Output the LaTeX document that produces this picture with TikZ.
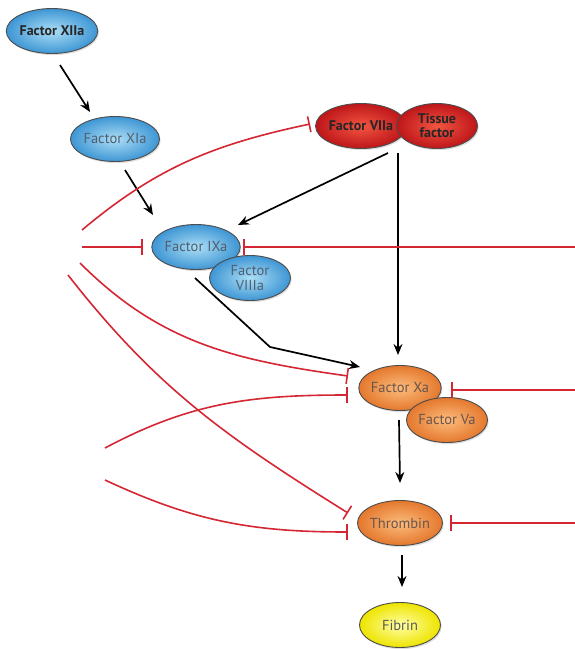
\documentclass[tikz,border=0pt]{standalone}
\usepackage{fontspec}
\setmainfont{PT Sans}
\usepackage{xcolor}
\usepackage{tikz}
\usetikzlibrary{arrows.meta, shapes.geometric, shadows}

\definecolor{inhibred}{RGB}{213, 38, 52}
\definecolor{blueinner}{RGB}{172, 222, 246}
\definecolor{blueouter}{RGB}{62, 150, 212}
\definecolor{redinner}{RGB}{242, 85, 65}
\definecolor{redouter}{RGB}{190, 22, 26}
\definecolor{orangeinner}{RGB}{252, 188, 125}
\definecolor{orangeouter}{RGB}{228, 120, 45}
\definecolor{yellowinner}{RGB}{255, 255, 165}
\definecolor{yellowouter}{RGB}{238, 228, 0}
\definecolor{bluetext}{RGB}{80, 95, 112}
\definecolor{orangetext}{RGB}{105, 85, 75}

\begin{document}
\begin{tikzpicture}[x = 1pt, y = 1pt,
    factor/.style = {ellipse, draw = black!70, line width = 0.9pt, minimum width = 81pt, minimum height = 45pt, inner sep = 0pt, align = center, font = \fontsize{14.5}{14.5}\selectfont, drop shadow = {opacity = 0.25, shadow xshift = 1.2pt, shadow yshift = -1.6pt}},
    bluefactor/.style = {factor, inner color = blueinner, outer color = blueouter, text = bluetext},
    redfactor/.style = {factor, inner color = redinner, outer color = redouter, text = black!85, font = \fontsize{14}{14}\selectfont\bfseries},
    orangefactor/.style = {factor, inner color = orangeinner, outer color = orangeouter, text = orangetext},
    yellowfactor/.style = {factor, inner color = yellowinner, outer color = yellowouter, text = black!65},
    activate/.style = {line width = 1.7pt, -{Stealth[length = 11pt, width = 9pt]}},
    inhibit/.style = {draw = inhibred, line width = 1.6pt, -{Bar[width = 16pt]}}]

    \useasboundingbox (+0.000, +0.000) rectangle (+575.000, -649.000);

    % Factors
    \node[bluefactor, text = black!85, font = \fontsize{14}{14}\selectfont\bfseries] (f12) at (+52.000, -31.000) {Factor XIIa};
    %
    \node[bluefactor] (f11) at (+115.000, -139.000) {Factor XIa};
    %
    \node[bluefactor] (f9) at (+196.000, -247.000) {Factor IXa};
    %
    \node[bluefactor] (f8) at (+250.000, -278.000) {Factor\\VIIIa};

    \node[redfactor] (f7) at (+361.000, -126.000) {Factor VIIa};
    %
    \node[redfactor] (tf) at (+437.000, -126.000) {Tissue\\factor};

    \node[orangefactor] (f10) at (+400.000, -388.000) {Factor Xa};
    %
    \node[orangefactor] (f5) at (+447.000, -420.000) {Factor Va};
    %
    \node[orangefactor] (thr) at (+400.000, -523.000) {Thrombin};

    \node[yellowfactor] (fib) at (+400.000, -625.000) {Fibrin};

    % Free ends of the red lines
    \coordinate (c1) at (+82.000, -230.000);
    \coordinate (c2) at (+82.000, -247.000);
    \coordinate (c3) at (+575.000, -247.000);
    \coordinate (c4) at (+80.000, -263.000);
    \coordinate (c5) at (+68.000, -275.000);
    \coordinate (c6) at (+105.000, -448.000);
    \coordinate (c7) at (+105.000, -480.000);
    \coordinate (c8) at (+575.000, -390.000);
    \coordinate (c9) at (+575.000, -523.000);
    \coordinate (bend) at (+270.000, -347.000);

    % Activation
    \draw[activate] ([shift = {(+8, -34)}]f12.center) -- ([shift = {(-25, +27)}]f11.center);
    %
    \draw[activate] ([shift = {(+10, -31)}]f11.center) -- ([shift = {(-43, +32)}]f9.center);
    %
    \draw[activate] ([shift = {(-49, -27)}]tf.center) -- ([shift = {(+42, +22)}]f9.center);
    %
    \draw[activate] ([shift = {(-39, -27)}]tf.center) -- ([shift = {(-2, +33)}]f10.center);
    %
    \draw[activate] ([shift = {(-1, -31)}]f9.center) -- (bend) -- ([shift = {(-40, +21)}]f10.center);
    %
    \draw[activate] ([shift = {(-1, -32)}]f10.center) -- ([shift = {(+0, +40)}]thr.center);
    %
    \draw[activate] ([shift = {(+2, -32)}]thr.center) -- ([shift = {(+2, +38)}]fib.center);

    % Inhibition
    \draw[inhibit] (c1) to[out = 40, in = 192] ([shift = {(-51, +2)}]f7.center);
    %
    \draw[inhibit] (c2) -- ([shift = {(-53, +0)}]f9.center);
    %
    \draw[inhibit] (c3) -- ([shift = {(+47, +0)}]f9.center);
    %
    \draw[inhibit] (c4) to[out = -45, in = 172] ([shift = {(-52, +12)}]f10.center);
    %
    \draw[inhibit] (c5) to[out = -52, in = 148] ([shift = {(-52, +10)}]thr.center);
    %
    \draw[inhibit] (c6) to[out = 28, in = 180] ([shift = {(-52, -7)}]f10.center);
    %
    \draw[inhibit] (c7) to[out = -25, in = 180] ([shift = {(-52, -9)}]thr.center);
    %
    \draw[inhibit] (c8) -- ([shift = {(+51, -2)}]f10.center);
    %
    \draw[inhibit] (c9) -- ([shift = {(+50, +0)}]thr.center);
\end{tikzpicture}
\end{document}
